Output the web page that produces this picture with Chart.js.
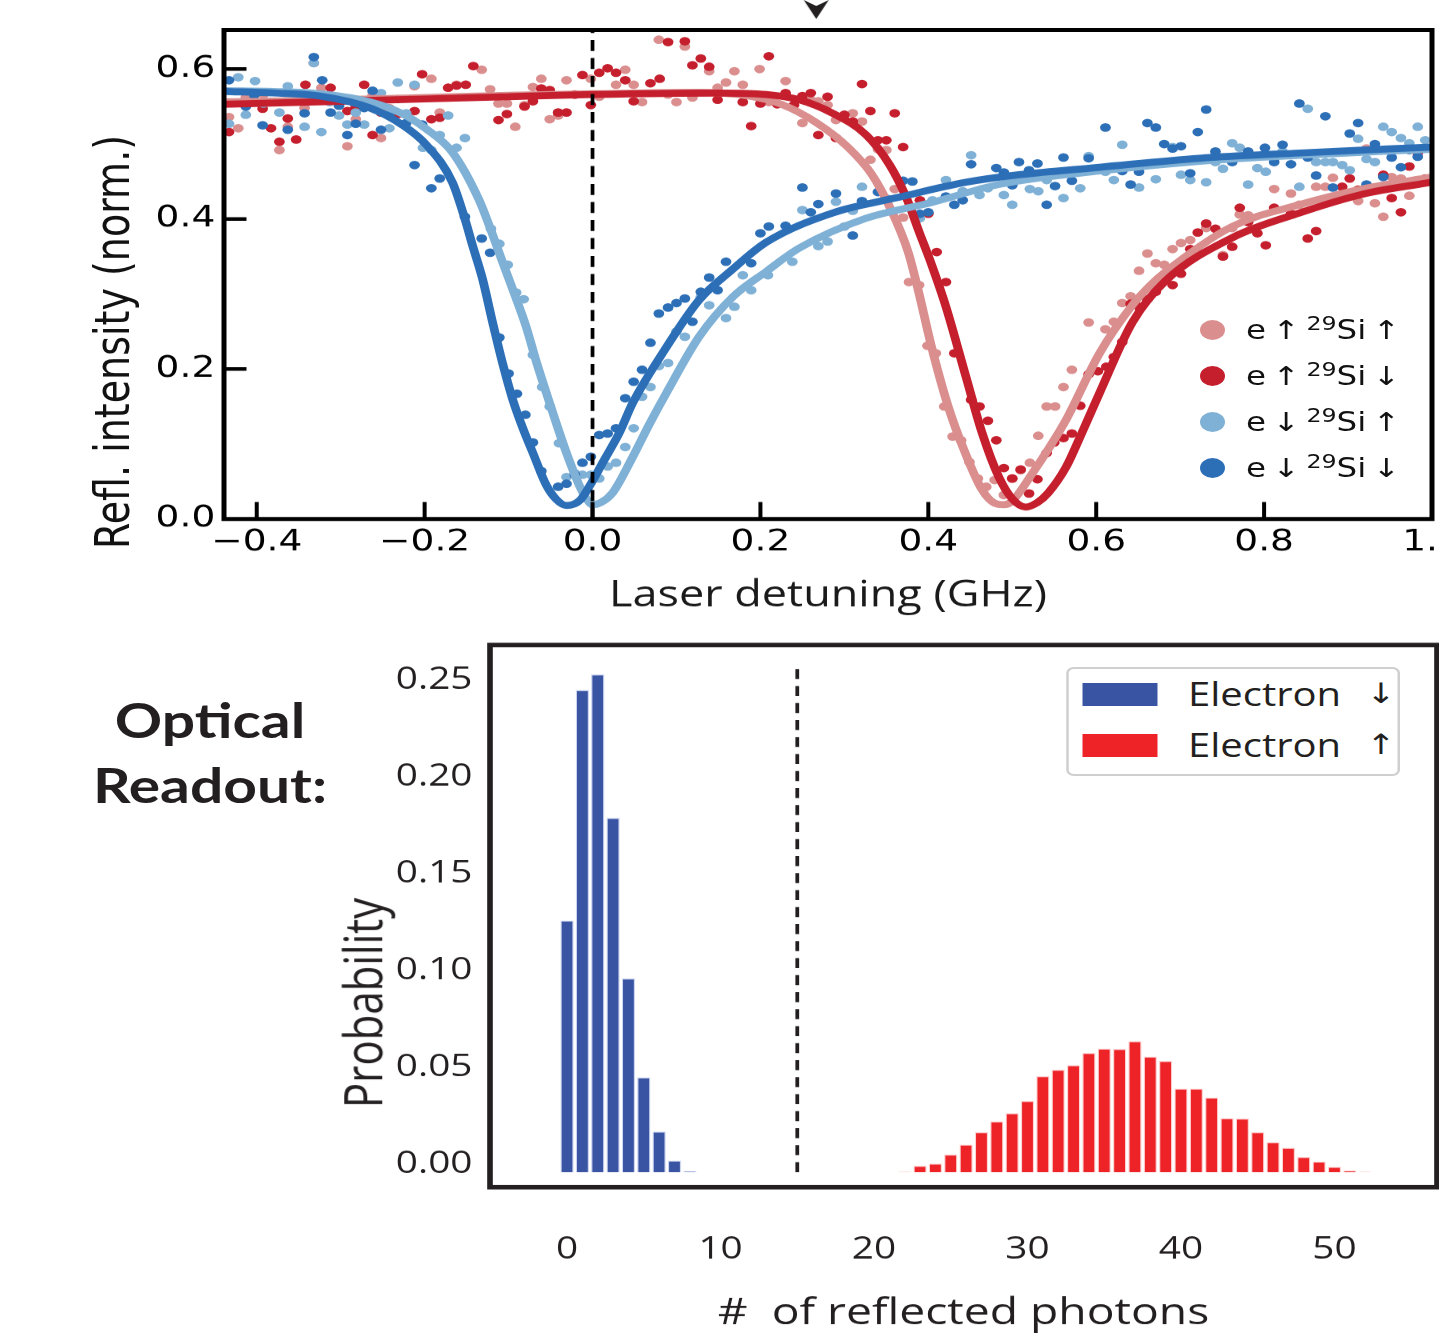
<!DOCTYPE html>
<html>
<head>
<meta charset="utf-8">
<script src="https://cdn.jsdelivr.net/npm/chart.js@4.4.1/dist/chart.umd.min.js"></script>
<style>
html,body{margin:0;padding:0;background:#fff;overflow:hidden;width:1439px;height:1341px;}
#wrap{position:absolute;left:0;top:0;width:1152px;height:1341px;transform:scaleX(1.25);transform-origin:0 0;}
#wrap canvas{position:absolute;left:0;}
#cTop{top:0;}
#cBot{top:640px;}
.rot{position:absolute;white-space:nowrap;line-height:1;transform:translate(-50%,-50%) rotate(-90deg);}
.dot{position:absolute;width:20px;height:20px;border-radius:50%;}
.ltxt{position:absolute;font-family:'DejaVu Sans';font-size:26px;line-height:1;white-space:nowrap;transform:translateY(-50%);color:#111;word-spacing:-3px;}
.ltxt sup{font-size:19px;line-height:0;vertical-align:0.5em;}
#blegend{position:absolute;left:852.8px;top:667px;width:267.2px;height:109px;border:2px solid #cfcfcf;border-radius:6px;box-sizing:border-box;background:#fff;}
.patch{position:absolute;width:60px;height:23px;}
.btxt{position:absolute;font-family:'Open Sans';font-size:32px;line-height:1;color:#231f20;transform:translateY(-50%);white-space:nowrap;}
.barr{position:absolute;font-family:'DejaVu Sans';font-size:28px;line-height:1;color:#231f20;transform:translateY(-50%);white-space:nowrap;}
#readout{position:absolute;left:0;top:688px;width:336px;text-align:center;font-family:'Lato';font-weight:700;font-size:47px;line-height:65px;color:#231f20;}
#arrow{position:absolute;left:642.8px;top:0;}
</style>
</head>
<body>
<div id="wrap">
  <canvas id="cTop" width="1152" height="640"></canvas>
  <canvas id="cBot" width="1152" height="701"></canvas>
  <svg id="arrow" width="20" height="20" viewBox="0 0 20 20"><polygon points="0,0 10,6 20,0 10,19" fill="#231f20"/></svg>
  <div class="rot" style="left:89.6px;top:342px;font-family:'DejaVu Sans';font-size:38px;color:#111;">Refl. intensity (norm.)</div>
  <div class="rot" style="left:289.6px;top:1003px;font-family:'Open Sans';font-size:42px;color:#231f20;">Probability</div>
  <div id="readout">Optical<br>Readout:</div>
  <div id="tlegend"></div>
  <div id="blegend"></div>
</div>
<script>
// ---------------- data: top panel (laser detuning scans) ----------------
const seriesNames = ['e ↑ ²⁹Si ↑', 'e ↑ ²⁹Si ↓', 'e ↓ ²⁹Si ↑', 'e ↓ ²⁹Si ↓'];
const electronSpin = ['↑', '↑', '↓', '↓'];
const siliconSpin  = ['↑', '↓', '↑', '↓'];
const seriesColors = ['#da8e8e', '#c51f2e', '#7fb0d5', '#2c6fb7'];

// measured points [detuning GHz, normalized reflection]
const upUpPts = [[-0.433,0.536],[-0.422,0.521],[-0.413,0.562],[-0.392,0.566],[-0.373,0.492],[-0.363,0.523],[-0.343,0.548],[-0.332,0.608],[-0.323,0.575],[-0.292,0.497],[-0.282,0.533],[-0.272,0.552],[-0.262,0.565],[-0.252,0.508],[-0.242,0.548],[-0.232,0.560],[-0.212,0.577],[-0.192,0.587],[-0.182,0.542],[-0.162,0.579],[-0.132,0.599],[-0.122,0.573],[-0.112,0.554],[-0.102,0.554],[-0.092,0.523],[-0.081,0.552],[-0.071,0.576],[-0.061,0.587],[-0.051,0.533],[-0.041,0.538],[-0.031,0.585],[-0.021,0.566],[-0.002,0.587],[0.008,0.563],[0.028,0.579],[0.039,0.599],[0.049,0.579],[0.059,0.556],[0.079,0.639],[0.090,0.566],[0.100,0.556],[0.110,0.630],[0.119,0.562],[0.139,0.597],[0.149,0.575],[0.159,0.582],[0.169,0.597],[0.179,0.579],[0.189,0.566],[0.199,0.600],[0.210,0.556],[0.230,0.584],[0.250,0.528],[0.260,0.559],[0.269,0.557],[0.280,0.552],[0.290,0.532],[0.310,0.541],[0.321,0.530],[0.331,0.479],[0.340,0.493],[0.350,0.492],[0.360,0.440],[0.370,0.402],[0.377,0.316],[0.389,0.312],[0.399,0.231],[0.409,0.221],[0.419,0.150],[0.429,0.110],[0.439,0.105],[0.449,0.076],[0.459,0.054],[0.469,0.043],[0.479,0.052],[0.490,0.032],[0.500,0.054],[0.510,0.065],[0.521,0.075],[0.531,0.111],[0.541,0.150],[0.551,0.150],[0.561,0.176],[0.571,0.199],[0.591,0.262],[0.611,0.253],[0.621,0.263],[0.631,0.288],[0.641,0.297],[0.651,0.331],[0.661,0.354],[0.671,0.341],[0.681,0.339],[0.691,0.360],[0.701,0.368],[0.712,0.372],[0.731,0.388],[0.751,0.352],[0.762,0.388],[0.771,0.406],[0.781,0.405],[0.812,0.440],[0.832,0.434],[0.842,0.419],[0.862,0.443],[0.873,0.443],[0.882,0.455],[0.912,0.424],[0.922,0.494],[0.932,0.421],[0.942,0.403],[0.952,0.456],[0.963,0.454],[0.973,0.431],[0.983,0.452]];
const upDnPts = [[-0.433,0.516],[-0.393,0.547],[-0.383,0.521],[-0.373,0.503],[-0.363,0.534],[-0.353,0.506],[-0.342,0.579],[-0.312,0.575],[-0.302,0.561],[-0.292,0.544],[-0.283,0.547],[-0.272,0.579],[-0.262,0.512],[-0.252,0.542],[-0.232,0.540],[-0.212,0.544],[-0.203,0.593],[-0.192,0.533],[-0.182,0.535],[-0.172,0.575],[-0.162,0.578],[-0.151,0.579],[-0.142,0.604],[-0.112,0.532],[-0.102,0.540],[-0.081,0.550],[-0.071,0.557],[-0.061,0.574],[-0.051,0.572],[-0.041,0.542],[-0.031,0.542],[-0.021,0.566],[-0.012,0.592],[-0.002,0.552],[0.008,0.595],[0.018,0.601],[0.028,0.595],[0.039,0.585],[0.049,0.557],[0.069,0.581],[0.080,0.587],[0.090,0.636],[0.110,0.637],[0.119,0.605],[0.129,0.614],[0.139,0.603],[0.149,0.559],[0.179,0.556],[0.189,0.524],[0.200,0.554],[0.210,0.617],[0.220,0.553],[0.230,0.568],[0.240,0.552],[0.250,0.564],[0.260,0.568],[0.269,0.512],[0.280,0.563],[0.290,0.508],[0.300,0.539],[0.310,0.530],[0.321,0.580],[0.331,0.544],[0.340,0.505],[0.350,0.505],[0.360,0.541],[0.370,0.496],[0.390,0.425],[0.400,0.407],[0.410,0.356],[0.421,0.316],[0.431,0.221],[0.451,0.159],[0.461,0.150],[0.471,0.131],[0.481,0.105],[0.490,0.068],[0.500,0.054],[0.510,0.066],[0.520,0.034],[0.530,0.053],[0.541,0.088],[0.550,0.102],[0.561,0.108],[0.571,0.114],[0.581,0.151],[0.591,0.193],[0.602,0.197],[0.612,0.203],[0.621,0.216],[0.631,0.236],[0.641,0.287],[0.651,0.283],[0.661,0.293],[0.671,0.303],[0.691,0.312],[0.701,0.327],[0.712,0.360],[0.721,0.382],[0.731,0.394],[0.742,0.387],[0.751,0.350],[0.762,0.363],[0.771,0.415],[0.781,0.396],[0.792,0.381],[0.802,0.365],[0.812,0.415],[0.832,0.407],[0.852,0.374],[0.862,0.384],[0.893,0.443],[0.902,0.454],[0.912,0.439],[0.932,0.441],[0.942,0.459],[0.952,0.428],[0.963,0.409],[0.973,0.470],[0.983,0.488],[0.992,0.454]];
const dnUpPts = [[-0.433,0.527],[-0.422,0.589],[-0.413,0.539],[-0.402,0.584],[-0.392,0.554],[-0.373,0.542],[-0.363,0.577],[-0.343,0.523],[-0.332,0.608],[-0.323,0.516],[-0.313,0.556],[-0.302,0.538],[-0.292,0.526],[-0.282,0.542],[-0.272,0.526],[-0.252,0.568],[-0.242,0.521],[-0.232,0.582],[-0.222,0.541],[-0.212,0.579],[-0.202,0.495],[-0.192,0.492],[-0.182,0.512],[-0.172,0.538],[-0.162,0.495],[-0.152,0.508],[-0.121,0.387],[-0.111,0.367],[-0.101,0.339],[-0.091,0.302],[-0.082,0.293],[-0.071,0.219],[-0.060,0.176],[-0.051,0.150],[-0.040,0.101],[-0.031,0.056],[-0.021,0.061],[-0.012,0.059],[-0.002,0.059],[0.008,0.054],[0.018,0.070],[0.028,0.075],[0.039,0.096],[0.049,0.121],[0.059,0.163],[0.069,0.176],[0.079,0.204],[0.090,0.208],[0.100,0.250],[0.110,0.243],[0.129,0.296],[0.139,0.285],[0.159,0.268],[0.169,0.283],[0.179,0.325],[0.189,0.305],[0.209,0.325],[0.238,0.343],[0.250,0.412],[0.269,0.364],[0.280,0.370],[0.290,0.423],[0.300,0.390],[0.310,0.411],[0.321,0.443],[0.390,0.401],[0.405,0.425],[0.421,0.452],[0.441,0.437],[0.451,0.485],[0.461,0.432],[0.471,0.441],[0.490,0.432],[0.500,0.419],[0.510,0.458],[0.521,0.440],[0.531,0.437],[0.541,0.452],[0.561,0.428],[0.581,0.441],[0.591,0.484],[0.611,0.463],[0.621,0.452],[0.631,0.499],[0.651,0.442],[0.661,0.473],[0.671,0.453],[0.691,0.496],[0.701,0.459],[0.712,0.452],[0.721,0.479],[0.731,0.449],[0.742,0.476],[0.751,0.467],[0.762,0.501],[0.771,0.495],[0.781,0.446],[0.792,0.468],[0.802,0.463],[0.822,0.490],[0.832,0.485],[0.842,0.443],[0.852,0.547],[0.862,0.476],[0.873,0.476],[0.882,0.476],[0.893,0.472],[0.902,0.465],[0.912,0.507],[0.922,0.480],[0.932,0.476],[0.942,0.523],[0.952,0.516],[0.963,0.508],[0.973,0.501],[0.983,0.523],[0.992,0.505]];
const dnDnPts = [[-0.433,0.585],[-0.413,0.550],[-0.403,0.565],[-0.393,0.525],[-0.383,0.556],[-0.363,0.519],[-0.353,0.568],[-0.343,0.541],[-0.332,0.616],[-0.322,0.585],[-0.312,0.542],[-0.302,0.551],[-0.292,0.512],[-0.282,0.527],[-0.272,0.548],[-0.262,0.571],[-0.252,0.519],[-0.242,0.540],[-0.222,0.528],[-0.212,0.472],[-0.203,0.526],[-0.192,0.441],[-0.182,0.454],[-0.152,0.403],[-0.132,0.374],[-0.122,0.355],[-0.111,0.242],[-0.100,0.194],[-0.090,0.167],[-0.080,0.139],[-0.071,0.102],[-0.061,0.064],[-0.041,0.043],[-0.031,0.047],[-0.021,0.059],[-0.012,0.075],[-0.002,0.083],[0.008,0.112],[0.018,0.114],[0.028,0.121],[0.039,0.161],[0.049,0.183],[0.059,0.199],[0.069,0.235],[0.079,0.274],[0.090,0.282],[0.100,0.288],[0.110,0.294],[0.119,0.263],[0.129,0.303],[0.139,0.322],[0.149,0.305],[0.159,0.343],[0.189,0.341],[0.200,0.381],[0.210,0.390],[0.230,0.391],[0.250,0.442],[0.260,0.409],[0.269,0.420],[0.290,0.434],[0.310,0.378],[0.321,0.424],[0.340,0.436],[0.350,0.427],[0.370,0.451],[0.381,0.450],[0.390,0.407],[0.400,0.409],[0.421,0.430],[0.431,0.419],[0.441,0.425],[0.451,0.473],[0.481,0.468],[0.490,0.462],[0.500,0.445],[0.508,0.476],[0.520,0.465],[0.530,0.474],[0.541,0.419],[0.551,0.444],[0.561,0.482],[0.571,0.451],[0.591,0.481],[0.601,0.467],[0.611,0.522],[0.621,0.468],[0.631,0.464],[0.641,0.446],[0.651,0.463],[0.661,0.528],[0.671,0.522],[0.681,0.500],[0.691,0.494],[0.701,0.497],[0.712,0.461],[0.721,0.516],[0.731,0.546],[0.742,0.490],[0.762,0.476],[0.781,0.490],[0.801,0.495],[0.812,0.476],[0.822,0.499],[0.832,0.473],[0.842,0.554],[0.852,0.482],[0.862,0.458],[0.873,0.537],[0.882,0.442],[0.902,0.514],[0.912,0.528],[0.922,0.446],[0.932,0.500],[0.942,0.456],[0.952,0.482],[0.963,0.469],[0.973,0.492],[0.983,0.483],[0.992,0.494]];

// fitted curves
const upUpFit = [[-0.439,0.556],[-0.3,0.559],[-0.2,0.562],[-0.1,0.565],[0.0,0.567],[0.127,0.569],[0.186,0.564],[0.225,0.553],[0.266,0.529],[0.305,0.495],[0.333,0.459],[0.357,0.409],[0.376,0.356],[0.388,0.305],[0.404,0.229],[0.424,0.149],[0.444,0.088],[0.464,0.039],[0.479,0.021],[0.490,0.019],[0.500,0.024],[0.524,0.061],[0.544,0.095],[0.564,0.132],[0.604,0.221],[0.643,0.285],[0.663,0.310],[0.683,0.330],[0.762,0.390],[0.842,0.419],[0.921,0.441],[1.0,0.456]];
const upDnFit = [[-0.439,0.553],[-0.3,0.557],[-0.2,0.560],[-0.1,0.563],[0.0,0.566],[0.15,0.568],[0.207,0.566],[0.246,0.559],[0.286,0.541],[0.326,0.512],[0.354,0.472],[0.374,0.428],[0.389,0.383],[0.402,0.345],[0.421,0.283],[0.445,0.189],[0.464,0.115],[0.484,0.056],[0.500,0.027],[0.516,0.016],[0.530,0.022],[0.543,0.035],[0.564,0.069],[0.583,0.115],[0.604,0.168],[0.643,0.262],[0.683,0.318],[0.762,0.375],[0.842,0.408],[0.921,0.434],[1.0,0.449]];
const dnUpFit = [[-0.439,0.571],[-0.38,0.570],[-0.325,0.567],[-0.265,0.556],[-0.226,0.540],[-0.198,0.520],[-0.167,0.489],[-0.135,0.425],[-0.121,0.385],[-0.107,0.342],[-0.093,0.300],[-0.079,0.256],[-0.067,0.210],[-0.055,0.168],[-0.043,0.127],[-0.031,0.088],[-0.015,0.043],[-0.006,0.025],[0.0,0.019],[0.010,0.022],[0.024,0.035],[0.048,0.083],[0.068,0.127],[0.088,0.168],[0.127,0.243],[0.167,0.296],[0.207,0.330],[0.246,0.361],[0.326,0.401],[0.404,0.422],[0.484,0.446],[0.604,0.464],[0.723,0.477],[0.842,0.485],[1.0,0.493]];
const dnDnFit = [[-0.439,0.570],[-0.38,0.568],[-0.325,0.564],[-0.265,0.548],[-0.226,0.525],[-0.198,0.499],[-0.167,0.449],[-0.152,0.400],[-0.143,0.365],[-0.131,0.320],[-0.119,0.262],[-0.107,0.207],[-0.095,0.159],[-0.083,0.121],[-0.071,0.088],[-0.055,0.045],[-0.043,0.026],[-0.031,0.018],[-0.015,0.025],[-0.004,0.043],[0.012,0.075],[0.032,0.115],[0.048,0.155],[0.088,0.229],[0.127,0.292],[0.167,0.333],[0.207,0.369],[0.286,0.408],[0.365,0.429],[0.445,0.449],[0.508,0.459],[0.604,0.469],[0.723,0.481],[0.842,0.488],[1.0,0.496]];

const topXRange = [-0.439, 1.0];
const topYRange = [0, 0.652];
const topMarker = 0.0;        // dashed vertical marker (GHz)

// ---------------- data: bottom panel (photon-count histogram) ----------------
const histNames = ['Electron ↓', 'Electron ↑'];
const histColors = ['#3a54a4', '#ed2328'];
const downCounts = [0,1,2,3,4,5,6,7,8];
const downProb   = [0.130,0.249,0.257,0.183,0.100,0.049,0.021,0.006,0.0006];
const upCounts   = [22,23,24,25,26,27,28,29,30,31,32,33,34,35,36,37,38,39,40,41,42,43,44,45,46,47,48,49,50,51,52];
const upProb     = [0.0003,0.0034,0.0045,0.0091,0.0143,0.0207,0.0263,0.0305,0.0368,0.0496,0.0529,0.0553,0.0616,0.0639,0.0637,0.0677,0.0597,0.0575,0.0432,0.0432,0.0386,0.0279,0.0277,0.0207,0.0155,0.0126,0.0079,0.0055,0.0028,0.0010,0.0003];
const threshold = 15;
const botXRange = [-5.02, 56.68];
const botYRange = [-0.0077, 0.2722];

// ---------------- helpers ----------------
const toXY = arr => arr.map(p => ({x: p[0], y: p[1]}));
const framePlugin = {
  id: 'frameTicks',
  afterDatasetsDraw(chart, args, o) {
    const {ctx, chartArea: a} = chart;
    ctx.save();
    ctx.strokeStyle = o.color;
    ctx.lineWidth = o.width;
    ctx.strokeRect(a.left, a.top, a.right - a.left, a.bottom - a.top);
    if (o.ticks) {
      const xs = chart.scales.x, ys = chart.scales.y;
      ctx.lineWidth = 3.2;
      xs.ticks.forEach(t => {
        const p = xs.getPixelForValue(t.value);
        if (p < a.left + 2 || p > a.right - 2) return;
        ctx.beginPath(); ctx.moveTo(p, a.bottom); ctx.lineTo(p, a.bottom - 17); ctx.stroke();
      });
      ctx.lineWidth = 3.6;
      ys.ticks.forEach(t => {
        const p = ys.getPixelForValue(t.value);
        if (p < a.top + 2 || p > a.bottom - 2) return;
        ctx.beginPath(); ctx.moveTo(a.left, p); ctx.lineTo(a.left + 18, p); ctx.stroke();
      });
    }
    ctx.restore();
  }
};

// ---------------- top chart ----------------
const ptsList = [upUpPts, upDnPts, dnUpPts, dnDnPts];
const fitList = [upUpFit, upDnFit, dnUpFit, dnDnFit];
const topSets = [];
topSets.push({ label: 'marker', data: [{x: topMarker, y: topYRange[0]}, {x: topMarker, y: topYRange[1]}],
  showLine: true, borderColor: '#000', borderWidth: 3, borderDash: [11, 7], pointRadius: 0 });
[3, 2, 1, 0].forEach(i => topSets.push({
  label: seriesNames[i] + ' fit', data: toXY(fitList[i]), showLine: true,
  borderColor: seriesColors[i], borderWidth: 7, pointRadius: 0,
  cubicInterpolationMode: 'monotone', borderCapStyle: 'round', borderJoinStyle: 'round'
}));
[3, 2, 1, 0].forEach(i => topSets.push({
  label: seriesNames[i], data: toXY(ptsList[i]), showLine: false,
  backgroundColor: seriesColors[i], borderWidth: 0, pointRadius: 4.3, pointHoverRadius: 4.3
}));

const fmtTop = v => (v < -1e-9 ? '\u2212' : '') + Math.abs(v).toFixed(1);

new Chart(document.getElementById('cTop'), {
  type: 'scatter',
  data: { datasets: topSets },
  plugins: [framePlugin],
  options: {
    responsive: false, animation: false, devicePixelRatio: 1.25,
    layout: { padding: { top: 30, right: 6.4, left: 0, bottom: 0 } },
    plugins: { legend: { display: false }, tooltip: { enabled: false },
               frameTicks: { color: '#000', width: 4, ticks: true } },
    scales: {
      x: {
        type: 'linear', min: topXRange[0], max: topXRange[1],
        afterFit: s => { s.height = 121; s.paddingLeft = 0; s.paddingRight = 0; },
        grid: { display: false, drawTicks: false }, border: { display: false },
        ticks: { stepSize: 0.2, includeBounds: false, autoSkip: false, maxRotation: 0, padding: 6,
                 color: '#000', font: { family: 'DejaVu Sans', size: 30 }, callback: fmtTop },
        title: { display: true, text: 'Laser detuning (GHz)', color: '#1a1a1a',
                 font: { family: 'Open Sans', size: 36 }, padding: { top: 0, bottom: 22 } }
      },
      y: {
        min: topYRange[0], max: topYRange[1],
        afterFit: s => { s.width = 179.2; s.paddingTop = 0; s.paddingBottom = 0; },
        grid: { display: false, drawTicks: false }, border: { display: false },
        ticks: { stepSize: 0.2, includeBounds: false, padding: 7, color: '#000',
                 font: { family: 'DejaVu Sans', size: 30 }, callback: v => v.toFixed(1) }
      }
    }
  }
});

// ---------------- bottom chart ----------------
new Chart(document.getElementById('cBot'), {
  type: 'bar',
  data: {
    datasets: [
      { type: 'line', label: 'threshold', data: [{x: threshold, y: 0}, {x: threshold, y: 0.263}],
        borderColor: '#231f20', borderWidth: 3, borderDash: [10, 7], pointRadius: 0, fill: false },
      { label: histNames[0], data: downCounts.map((c, i) => ({x: c, y: downProb[i]})),
        backgroundColor: histColors[0], borderColor: 'rgba(200,210,240,0.9)', borderWidth: 1,
        grouped: false, barPercentage: 0.87, categoryPercentage: 1 },
      { label: histNames[1], data: upCounts.map((c, i) => ({x: c, y: upProb[i]})),
        backgroundColor: histColors[1], borderColor: 'rgba(255,205,205,0.9)', borderWidth: 1,
        grouped: false, barPercentage: 0.87, categoryPercentage: 1 }
    ]
  },
  plugins: [framePlugin],
  options: {
    responsive: false, animation: false, devicePixelRatio: 1.25,
    layout: { padding: { top: 5, right: 2.4, left: 0, bottom: 0 } },
    plugins: { legend: { display: false }, tooltip: { enabled: false },
               frameTicks: { color: '#231f20', width: 4.5, ticks: false } },
    scales: {
      x: {
        type: 'linear', offset: false, min: botXRange[0], max: botXRange[1],
        afterFit: s => { s.height = 154; s.paddingLeft = 0; s.paddingRight = 0; },
        grid: { display: false, drawTicks: false }, border: { display: false },
        ticks: { stepSize: 10, includeBounds: false, autoSkip: false, maxRotation: 0, padding: 44,
                 color: '#231f20', font: { family: 'Open Sans', size: 31 }, callback: v => String(Math.round(v)) },
        title: { display: true, text: '#  of reflected photons', color: '#231f20',
                 font: { family: 'Open Sans', size: 37 }, padding: { top: 0, bottom: 5 } }
      },
      y: {
        min: botYRange[0], max: botYRange[1],
        afterFit: s => { s.width = 392; s.paddingTop = 0; s.paddingBottom = 0; },
        grid: { display: false, drawTicks: false }, border: { display: false },
        ticks: { stepSize: 0.05, includeBounds: false, padding: 14, labelOffset: -8, color: '#231f20',
                 font: { family: 'Open Sans', size: 31 }, callback: v => Math.abs(v).toFixed(2) }
      }
    }
  }
});

// ---------------- legends (HTML) ----------------
const tl = document.getElementById('tlegend');
const legendY = [330, 376, 422, 468];
seriesNames.forEach((n, i) => {
  const d = document.createElement('div');
  d.className = 'dot';
  d.style.left = (969.6 - 10) + 'px';
  d.style.top = (legendY[i] - 10) + 'px';
  d.style.background = seriesColors[i];
  tl.appendChild(d);
  const t = document.createElement('div');
  t.className = 'ltxt';
  t.style.left = '996.8px';
  t.style.top = legendY[i] + 'px';
  t.innerHTML = 'e ' + electronSpin[i] + ' <sup>29</sup>Si ' + siliconSpin[i];
  tl.appendChild(t);
});
const bl = document.getElementById('blegend');
const bRows = [694 - 667, 745 - 667];
histNames.forEach((n, i) => {
  const p = document.createElement('div');
  p.className = 'patch';
  p.style.left = (865.6 - 852.8 - 2) + 'px';
  p.style.top = (bRows[i] - 11.5 - 2) + 'px';
  p.style.background = histColors[i];
  bl.appendChild(p);
  const parts = n.split(' ');
  const t = document.createElement('div');
  t.className = 'btxt';
  t.style.left = (950.4 - 852.8 - 2) + 'px';
  t.style.top = (bRows[i] - 2) + 'px';
  t.textContent = parts[0];
  bl.appendChild(t);
  const a = document.createElement('div');
  a.className = 'barr';
  a.style.left = (1093 - 852.8 - 2) + 'px';
  a.style.top = (bRows[i] - 2) + 'px';
  a.textContent = parts[1];
  bl.appendChild(a);
});
</script>
</body>
</html>
